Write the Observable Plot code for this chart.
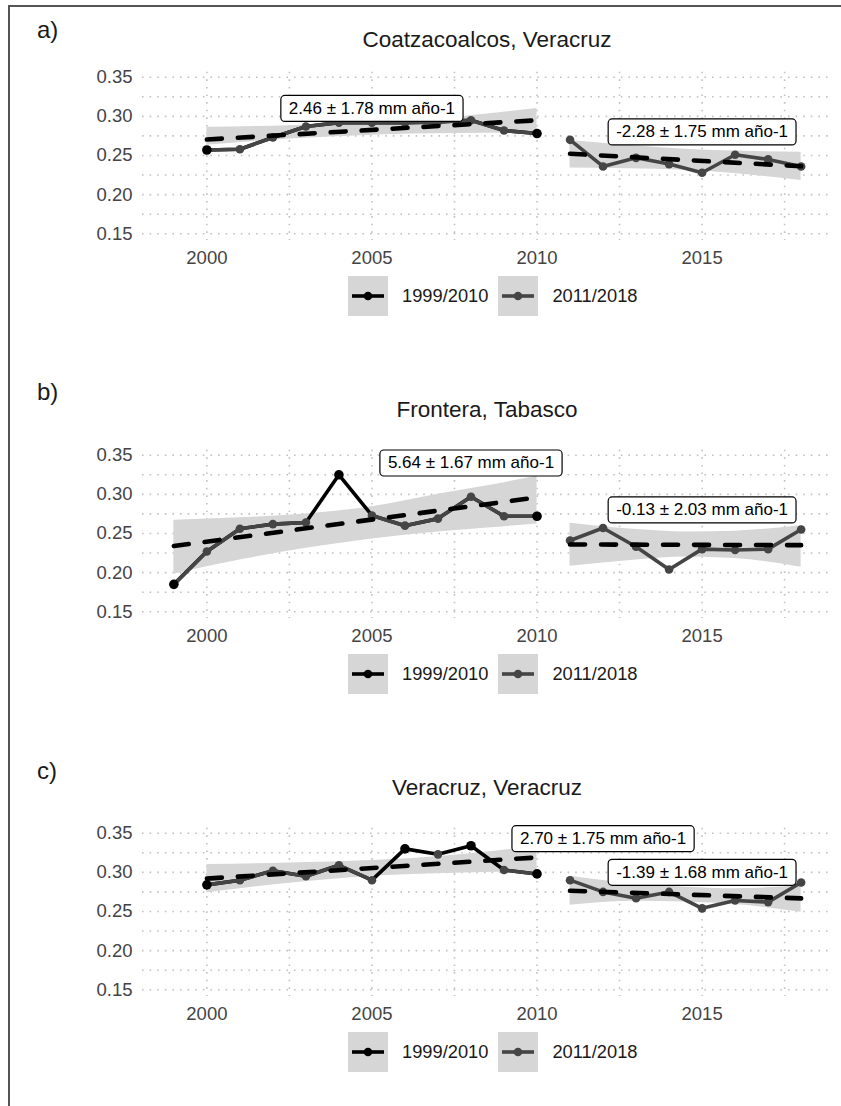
<!DOCTYPE html>
<html>
<head>
<meta charset="utf-8">
<script src="https://cdn.jsdelivr.net/npm/d3@7"></script>
<script src="https://cdn.jsdelivr.net/npm/@observablehq/plot@0.6"></script>
<style>
  body { margin: 0; background: #fff; font-family: "Liberation Sans", Arial, sans-serif; }
  #fig { position: relative; width: 841px; height: 1106px; overflow: hidden; background: #fff; }
  .frame { position: absolute; left: 8px; top: 5px; width: 900px; height: 1200px;
           border-top: 2px solid #555; border-left: 2px solid #555; }
  .panel { position: absolute; left: 0; width: 841px; height: 378px; }
  .tag { position: absolute; left: 37px; height: 30px; line-height: 30px; font-size: 24px; color: #1a1a1a; }
  .title { position: absolute; left: 142px; width: 690px; height: 30px; line-height: 30px;
           text-align: center; font-size: 22.5px; color: #1a1a1a; }
  .chart { position: absolute; left: 0; }
  .legend { position: absolute; left: 348px; height: 40px; display: flex; align-items: center;
            font-size: 18.3px; color: #1a1a1a; }
  .key { width: 40px; height: 40px; background: #d6d6d6; }
  .key svg { display: block; }
  .legend span { margin: 0 10px 0 14px; }
</style>
</head>
<body>
<div id="fig"><div class="frame"></div></div>
<script>
// Panel headings and legend entries
const panelTags = ["a)", "b)", "c)"];
const panelTitles = ["Coatzacoalcos, Veracruz", "Frontera, Tabasco", "Veracruz, Veracruz"];
const seriesNames = ["1999/2010", "2011/2018"];

// Annual mean sea level (m), first period
const coatzYears1 = [2000, 2001, 2002, 2003, 2004, 2005, 2006, 2007, 2008, 2009, 2010];
const coatzLevel1 = [0.257, 0.258, 0.273, 0.287, 0.292, 0.292, 0.292, 0.293, 0.295, 0.282, 0.278];
const fronteraYears1 = [1999, 2000, 2001, 2002, 2003, 2004, 2005, 2006, 2007, 2008, 2009, 2010];
const fronteraLevel1 = [0.185, 0.227, 0.256, 0.262, 0.264, 0.325, 0.273, 0.260, 0.269, 0.297, 0.272, 0.272];
const veracruzYears1 = [2000, 2001, 2002, 2003, 2004, 2005, 2006, 2007, 2008, 2009, 2010];
const veracruzLevel1 = [0.284, 0.290, 0.302, 0.295, 0.309, 0.290, 0.330, 0.323, 0.334, 0.303, 0.298];

// Annual mean sea level (m), second period
const years2 = [2011, 2012, 2013, 2014, 2015, 2016, 2017, 2018];
const coatzLevel2 = [0.270, 0.236, 0.247, 0.239, 0.228, 0.251, 0.245, 0.236];
const fronteraLevel2 = [0.241, 0.257, 0.233, 0.204, 0.230, 0.229, 0.230, 0.255];
const veracruzLevel2 = [0.290, 0.275, 0.267, 0.275, 0.254, 0.264, 0.262, 0.287];

// Years drawn only by the first-period series, and its highlighted points
const gapYears = [[], [2004], [2006, 2008]];
const darkYears = [[2000, 2010], [1999, 2004, 2010], [2000, 2006, 2008, 2010]];

// Linear trends: level at the first year (m), rate and error (mm/año)
const trendStart1 = [0.2704, 0.234, 0.292];
const trendRate1 = [2.46, 5.64, 2.70];
const trendError1 = [1.78, 1.67, 1.75];
const trendStart2 = [0.2522, 0.236, 0.2765];
const trendRate2 = [-2.28, -0.13, -1.39];
const trendError2 = [1.75, 2.03, 1.68];

// Where each trend label sits (year, level)
const labelYear1 = [2005, 2008, 2012];
const labelLevel1 = [0.310, 0.340, 0.343];
const labelYear2 = [2015, 2015, 2015];
const labelLevel2 = [0.280, 0.280, 0.300];

// Uncertainty bands around the trends
const bandYears1 = [[2000, 2002.5, 2005, 2007.5, 2010],
                    [1999, 2001, 2003, 2005, 2007, 2008.5, 2010],
                    [2000, 2002.5, 2005, 2007.5, 2010]];
const bandLow1 = [[0.263, 0.271, 0.276, 0.278, 0.279],
                  [0.198, 0.216, 0.231, 0.243, 0.252, 0.257, 0.262],
                  [0.274, 0.286, 0.295, 0.299, 0.301]];
const bandHigh1 = [[0.286, 0.288, 0.292, 0.299, 0.310],
                   [0.267, 0.270, 0.275, 0.284, 0.300, 0.311, 0.323],
                   [0.310, 0.312, 0.315, 0.322, 0.333]];
const bandYears2 = [[2011, 2014.5, 2018],
                    [2011, 2013, 2014.5, 2016, 2018],
                    [2011, 2013, 2014.5, 2016, 2018]];
const bandLow2 = [[0.234, 0.231, 0.218],
                  [0.208, 0.216, 0.220, 0.218, 0.207],
                  [0.258, 0.263, 0.262, 0.259, 0.249]];
const bandHigh2 = [[0.269, 0.258, 0.254],
                   [0.263, 0.255, 0.252, 0.253, 0.260],
                   [0.295, 0.285, 0.281, 0.279, 0.283]];

// Axis ticks and grid
const xTicks = [2000, 2005, 2010, 2015];
const xMinor = [2002.5, 2007.5, 2012.5, 2017.5];
const yTicks = [0.15, 0.20, 0.25, 0.30, 0.35];
const yMinor = [0.175, 0.225, 0.275, 0.325];

const years1 = [coatzYears1, fronteraYears1, veracruzYears1];
const levels1 = [coatzLevel1, fronteraLevel1, veracruzLevel1];
const levels2 = [coatzLevel2, fronteraLevel2, veracruzLevel2];

const BLACK = "#000000";
const GREY = "#454545";
const BAND = "#d6d6d6";
const PANEL_STEP = 378;
// vertical centres (px, within each panel) of the tag and the title
const tagCentre = [30, 14, 15];
const titleCentre = [40, 32, 32];

const fig = document.getElementById("fig");

function rows(xs, ys) { return xs.map((x, k) => ({year: x, level: ys[k]})); }
function bandRows(xs, lo, hi) { return xs.map((x, k) => ({year: x, low: lo[k], high: hi[k]})); }
function trendRows(xs, start, rate) {
  const x0 = xs[0], x1 = xs[xs.length - 1];
  return [{year: x0, level: start}, {year: x1, level: start + rate / 1000 * (x1 - x0)}];
}
function labelText(rate, err) { return `${rate.toFixed(2)} ± ${err.toFixed(2)} mm año-1`; }

function legendKey(color) {
  return `<div class="key"><svg width="40" height="40">
    <line x1="4" y1="20" x2="36" y2="20" stroke="${color}" stroke-width="3.6"/>
    <circle cx="20" cy="20" r="4.3" fill="${color}"/></svg></div>`;
}

for (let i = 0; i < 3; i++) {
  const off = i * PANEL_STEP;
  const panel = document.createElement("div");
  panel.className = "panel";
  panel.style.top = off + "px";
  fig.appendChild(panel);

  const tag = document.createElement("div");
  tag.className = "tag"; tag.style.top = (tagCentre[i] - 15) + "px"; tag.textContent = panelTags[i];
  panel.appendChild(tag);

  const title = document.createElement("div");
  title.className = "title"; title.style.top = (titleCentre[i] - 15) + "px"; title.textContent = panelTitles[i];
  panel.appendChild(title);

  const p1 = rows(years1[i], levels1[i]);
  const p1Grey = p1.map(d => ({year: d.year, level: gapYears[i].includes(d.year) ? NaN : d.level}));
  const p2 = rows(years2, levels2[i]);
  const greyDots = p1Grey.filter(d => !isNaN(d.level) && !darkYears[i].includes(d.year)).concat(p2);
  const darkDots = p1.filter(d => darkYears[i].includes(d.year));

  const labels = [
    {year: labelYear1[i], level: labelLevel1[i], text: labelText(trendRate1[i], trendError1[i])},
    {year: labelYear2[i], level: labelLevel2[i], text: labelText(trendRate2[i], trendError2[i])}
  ];

  const dotted = {stroke: "#c2c2c2", strokeOpacity: 1, strokeWidth: 1.6, strokeDasharray: "1.6,6"};

  const chart = Plot.plot({
    width: 841,
    height: 210,
    marginLeft: 142,
    marginRight: 9,
    marginTop: 11.7,
    marginBottom: 30,
    style: {fontFamily: '"Liberation Sans", Arial, sans-serif', fontSize: "18.5px", color: "#444", background: "transparent"},
    x: {domain: [1998.05, 2018.95]},
    y: {domain: [0.1414, 0.3564]},
    marks: [
      Plot.gridX(xTicks.concat(xMinor), dotted),
      Plot.gridY(yTicks.concat(yMinor), dotted),
      Plot.axisX({ticks: xTicks, tickSize: 0, tickPadding: 10.5, tickFormat: "d", label: null}),
      Plot.axisY({ticks: yTicks, tickSize: 0, tickPadding: 10, tickFormat: d3.format(".2f"), label: null}),
      Plot.areaY(bandRows(bandYears1[i], bandLow1[i], bandHigh1[i]),
                 {x: "year", y1: "low", y2: "high", fill: BAND, curve: "monotone-x"}),
      Plot.areaY(bandRows(bandYears2[i], bandLow2[i], bandHigh2[i]),
                 {x: "year", y1: "low", y2: "high", fill: BAND, curve: "monotone-x"}),
      Plot.line(p1, {x: "year", y: "level", stroke: BLACK, strokeWidth: 3.6}),
      Plot.line(p1Grey, {x: "year", y: "level", stroke: GREY, strokeWidth: 3.6}),
      Plot.line(p2, {x: "year", y: "level", stroke: GREY, strokeWidth: 3.6}),
      Plot.dot(greyDots, {x: "year", y: "level", r: 4.3, fill: GREY, stroke: null}),
      Plot.dot(darkDots, {x: "year", y: "level", r: 4.8, fill: BLACK, stroke: null}),
      Plot.line(trendRows(years1[i], trendStart1[i], trendRate1[i]),
                {x: "year", y: "level", stroke: BLACK, strokeWidth: 4.6, strokeDasharray: "15,16"}),
      Plot.line(trendRows(years2, trendStart2[i], trendRate2[i]),
                {x: "year", y: "level", stroke: BLACK, strokeWidth: 4.6, strokeDasharray: "15,16"}),
      Plot.text(labels, {x: "year", y: "level", text: "text", fontSize: 17, fill: "#000",
                         textAnchor: "middle", lineAnchor: "middle"})
    ]
  });
  chart.classList.add("chart");
  chart.style.top = "60px";
  panel.appendChild(chart);

  // Rounded boxes behind the trend labels, sized to the rendered text
  Array.from(chart.querySelectorAll("text"))
    .filter(t => t.textContent.includes("mm año"))
    .forEach(t => {
      const bb = t.getBBox();
      const cy = bb.y + bb.height / 2;
      const rect = document.createElementNS("http://www.w3.org/2000/svg", "rect");
      rect.setAttribute("x", bb.x - 8);
      rect.setAttribute("y", cy - 13);
      rect.setAttribute("width", bb.width + 16);
      rect.setAttribute("height", 26);
      rect.setAttribute("rx", 4);
      rect.setAttribute("fill", "#fff");
      rect.setAttribute("stroke", "#000");
      rect.setAttribute("stroke-width", 1.2);
      const tr = t.getAttribute("transform");
      if (tr) rect.setAttribute("transform", tr);
      t.parentNode.insertBefore(rect, t);
    });

  const legend = document.createElement("div");
  legend.className = "legend";
  legend.style.top = "276px";
  legend.innerHTML = legendKey(BLACK) + `<span>${seriesNames[0]}</span>` +
                     legendKey(GREY) + `<span>${seriesNames[1]}</span>`;
  panel.appendChild(legend);
}
</script>
</body>
</html>
